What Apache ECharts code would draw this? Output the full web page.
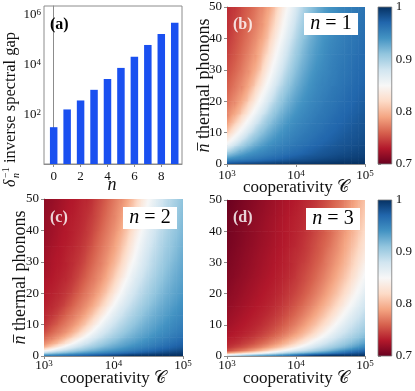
<!DOCTYPE html>
<html><head><meta charset="utf-8">
<script src="https://cdn.jsdelivr.net/npm/echarts@6/dist/echarts.min.js"></script>
<style>html,body{margin:0;padding:0;background:#fff}#c{width:415px;height:391px}</style>
</head><body><div id="c"></div>
<script>
// ---------- data ----------
const barN = [0,1,2,3,4,5,6,7,8,9];
const barGap = [30,155,355,950,2600,7200,20000,60000,165000,470000];
const barTicks = [0,2,4,6,8];
const logTickLabels = [100, 10000, 1000000];
const coopEdges = [1000,1258.9,1584.9,1995.3,2511.9,3162.3,3981.1,5011.9,6309.6,7943.3,10000,12589,15849,19953,25119,31623,39811,50119,63096,79433,100000];
const phononEdges = [0,1,2,3,4,6,8,10,13,16,20,25,30,35,40,45,50];
const panelN = ['1','2','3'];
const cbRange = [0.7, 1];
const heatB = [
[.971,.974,.977,.979,.981,.983,.985,.987,.988,.990,.991,.992,.993,.994,.995,.996,.997,.997,.998,.998],
[.946,.951,.955,.959,.962,.966,.969,.972,.975,.978,.980,.982,.984,.986,.988,.989,.991,.992,.993,.994],
[.927,.936,.943,.949,.953,.957,.961,.964,.968,.971,.974,.977,.979,.981,.983,.985,.987,.988,.990,.991],
[.910,.922,.932,.940,.946,.951,.955,.959,.962,.966,.969,.972,.975,.978,.980,.982,.984,.986,.988,.989],
[.885,.903,.916,.927,.936,.943,.949,.953,.957,.961,.964,.968,.971,.974,.977,.979,.981,.983,.985,.987],
[.855,.875,.895,.910,.922,.932,.940,.946,.951,.955,.959,.962,.966,.969,.972,.975,.978,.980,.982,.984],
[.834,.855,.875,.895,.910,.922,.932,.940,.946,.951,.955,.959,.962,.966,.969,.972,.975,.978,.980,.982],
[.810,.834,.855,.875,.895,.910,.922,.932,.940,.946,.951,.955,.959,.962,.966,.969,.972,.975,.978,.980],
[.790,.810,.834,.855,.875,.895,.910,.922,.932,.940,.946,.951,.955,.959,.962,.966,.969,.972,.975,.978],
[.778,.790,.810,.834,.855,.875,.895,.910,.922,.932,.940,.946,.951,.955,.959,.962,.966,.969,.972,.975],
[.768,.778,.790,.810,.834,.855,.875,.895,.910,.922,.932,.940,.946,.951,.955,.959,.962,.966,.969,.972],
[.760,.769,.779,.792,.812,.836,.857,.877,.896,.911,.923,.933,.941,.947,.951,.955,.959,.962,.966,.969],
[.754,.762,.772,.783,.796,.820,.843,.863,.883,.901,.915,.926,.935,.942,.948,.953,.957,.960,.964,.967],
[.749,.757,.766,.776,.788,.805,.829,.851,.871,.891,.907,.920,.930,.938,.945,.950,.954,.958,.961,.965],
[.745,.753,.761,.770,.780,.793,.815,.838,.859,.879,.898,.912,.924,.934,.941,.947,.952,.956,.960,.963],
[.742,.748,.757,.765,.775,.786,.803,.827,.849,.869,.889,.906,.918,.929,.938,.944,.950,.954,.958,.961]
];
const heatC = [
[.928,.934,.940,.946,.951,.956,.961,.966,.970,.974,.978,.982,.986,.988,.990,.992,.994,.995,.996,.997],
[.866,.880,.891,.901,.910,.918,.925,.931,.937,.943,.948,.953,.958,.963,.968,.972,.976,.980,.984,.987],
[.820,.840,.858,.873,.886,.896,.906,.914,.922,.928,.934,.940,.946,.951,.956,.961,.966,.970,.974,.978],
[.793,.810,.830,.850,.866,.880,.891,.901,.910,.918,.925,.931,.937,.943,.948,.953,.958,.963,.968,.972],
[.775,.786,.801,.820,.840,.858,.873,.886,.896,.906,.914,.922,.928,.934,.940,.946,.951,.956,.961,.966],
[.760,.770,.780,.793,.810,.830,.850,.866,.880,.891,.901,.910,.918,.925,.931,.937,.943,.948,.953,.958],
[.750,.760,.770,.780,.793,.810,.830,.850,.866,.880,.891,.901,.910,.918,.925,.931,.937,.943,.948,.953],
[.742,.750,.760,.770,.780,.793,.810,.830,.850,.866,.880,.891,.901,.910,.918,.925,.931,.937,.943,.948],
[.737,.742,.750,.760,.770,.780,.793,.810,.830,.850,.866,.880,.891,.901,.910,.918,.925,.931,.937,.943],
[.733,.737,.742,.750,.760,.770,.780,.793,.810,.830,.850,.866,.880,.891,.901,.910,.918,.925,.931,.937],
[.730,.733,.737,.742,.750,.760,.770,.780,.793,.810,.830,.850,.866,.880,.891,.901,.910,.918,.925,.931],
[.726,.730,.733,.737,.743,.751,.761,.771,.781,.795,.812,.832,.852,.867,.881,.892,.902,.911,.919,.926],
[.724,.728,.731,.735,.739,.745,.754,.764,.774,.785,.799,.818,.838,.856,.872,.885,.895,.905,.913,.921],
[.721,.725,.729,.732,.736,.741,.748,.758,.768,.778,.790,.806,.826,.846,.863,.877,.889,.899,.908,.916],
[.720,.723,.727,.731,.734,.738,.744,.752,.762,.772,.782,.796,.814,.834,.853,.869,.882,.893,.903,.912],
[.718,.721,.725,.729,.732,.736,.740,.748,.757,.767,.777,.788,.804,.824,.844,.861,.876,.888,.898,.908]
];
const heatD = [
[.846,.860,.873,.884,.894,.903,.912,.921,.930,.940,.950,.959,.967,.973,.978,.982,.985,.987,.989,.991],
[.765,.774,.784,.795,.808,.822,.838,.853,.867,.879,.889,.898,.907,.916,.925,.935,.945,.955,.963,.970],
[.747,.754,.761,.770,.779,.790,.802,.815,.830,.846,.860,.873,.884,.894,.903,.912,.921,.930,.940,.950],
[.739,.744,.750,.757,.765,.774,.784,.795,.808,.822,.838,.853,.867,.879,.889,.898,.907,.916,.925,.935],
[.734,.737,.742,.747,.754,.761,.770,.779,.790,.802,.815,.830,.846,.860,.873,.884,.894,.903,.912,.921],
[.729,.732,.735,.739,.744,.750,.757,.765,.774,.784,.795,.808,.822,.838,.853,.867,.879,.889,.898,.907],
[.726,.729,.732,.735,.739,.744,.750,.757,.765,.774,.784,.795,.808,.822,.838,.853,.867,.879,.889,.898],
[.723,.726,.729,.732,.735,.739,.744,.750,.757,.765,.774,.784,.795,.808,.822,.838,.853,.867,.879,.889],
[.720,.723,.726,.729,.732,.735,.739,.744,.750,.757,.765,.774,.784,.795,.808,.822,.838,.853,.867,.879],
[.717,.720,.723,.726,.729,.732,.735,.739,.744,.750,.757,.765,.774,.784,.795,.808,.822,.838,.853,.867],
[.714,.717,.720,.723,.726,.729,.732,.735,.739,.744,.750,.757,.765,.774,.784,.795,.808,.822,.838,.853],
[.711,.714,.717,.720,.723,.726,.729,.732,.735,.739,.745,.751,.758,.766,.775,.785,.796,.809,.824,.840],
[.709,.712,.715,.718,.721,.724,.727,.730,.733,.737,.741,.746,.753,.760,.769,.778,.788,.800,.814,.828],
[.707,.710,.713,.716,.719,.722,.725,.728,.731,.734,.738,.743,.749,.756,.763,.772,.782,.793,.805,.819],
[.706,.709,.712,.715,.718,.721,.724,.727,.730,.733,.736,.740,.745,.751,.759,.767,.776,.786,.798,.811],
[.704,.707,.710,.713,.716,.719,.722,.725,.728,.731,.734,.738,.742,.748,.755,.763,.771,.781,.792,.804]
];

// ---------- styling ----------
const SERIF = '"Liberation Serif", "DejaVu Serif", serif';
const RDBU = ['#67001f','#b2182b','#d6604d','#f4a582','#fddbc7','#f7f7f7','#d1e5f0','#92c5de','#4393c3','#2166ac','#053061'];
const RDBU_RGB = RDBU.map(h => [1,3,5].map(i => parseInt(h.substr(i,2),16)));
const AX = '#8c8c8c';
const TOP = 100;
function cmap(v){
  let t = (v - cbRange[0]) / (cbRange[1] - cbRange[0]);
  t = Math.max(0, Math.min(1, t)) * (RDBU.length - 1);
  const i = Math.min(RDBU.length - 2, Math.floor(t)), f = t - i;
  const a = RDBU_RGB[i], b = RDBU_RGB[i+1];
  return 'rgb(' + a.map((x, k) => Math.round(x + (b[k]-x)*f)).join(',') + ')';
}
const supRich = {
  b: {fontFamily: SERIF, fontSize: 13, color: '#111', verticalAlign: 'bottom', lineHeight: 13},
  s: {fontFamily: SERIF, fontSize: 9, color: '#111', verticalAlign: 'top', lineHeight: 9, padding: [0,0,6,0]}
};
const powLabel = v => '{b|10}{s|' + Math.round(Math.log10(v)) + '}';

function heatData(rows){
  const out = [];
  rows.forEach((row, r) => row.forEach((v, c) => {
    out.push([coopEdges[c], coopEdges[c+1], phononEdges[r], phononEdges[r+1], v]);
  }));
  return out;
}
// each cell is shaded (like gouraud shading) with a gradient following the local slope of the grid values
function makeCellRenderer(rows){
  const nR = rows.length, nC = rows[0].length;
  return function(params, api){
    const r = Math.floor(params.dataIndex / nC), c = params.dataIndex % nC;
    const px = i => api.coord([coopEdges[i], 0])[0];
    const py = i => api.coord([coopEdges[0], phononEdges[i]])[1];
    const cx = i => (px(i) + px(i+1)) / 2, cy = i => (py(i) + py(i+1)) / 2;
    const x0 = px(c), x1 = px(c+1), y0 = py(r+1), y1 = py(r);
    const v = rows[r][c];
    const cl = Math.max(0, c-1), cr = Math.min(nC-1, c+1);
    const rl = Math.max(0, r-1), rh = Math.min(nR-1, r+1);
    const gx = (rows[r][cr] - rows[r][cl]) / (cx(cr) - cx(cl));
    const gy = (rows[rh][c] - rows[rl][c]) / (cy(rh) - cy(rl));
    const mx = (x0 + x1) / 2, my = (y0 + y1) / 2;
    const g = Math.hypot(gx, gy);
    let fill = cmap(v);
    if (g > 1e-7){
      const ux = gx / g, uy = gy / g;
      const hw = (x1 - x0) / 2, hh = (y1 - y0) / 2;
      const ext = Math.abs(ux) * hw + Math.abs(uy) * hh + 0.5;
      const v0 = v - g * ext, v1 = v + g * ext;
      const stops = [];
      for (let k = 0; k <= 6; k++) stops.push({offset: k/6, color: cmap(v0 + (v1 - v0) * k / 6)});
      fill = {type: 'linear', global: true, x: mx - ux*ext, y: my - uy*ext, x2: mx + ux*ext, y2: my + uy*ext, colorStops: stops};
    }
    return {type: 'rect', shape: {x: x0, y: y0, width: x1 - x0 + 0.6, height: y1 - y0 + 0.6}, style: {fill: fill}};
  };
}
function renderBar(params, api){
  const p1 = api.coord([api.value(0), api.value(3)]);
  const p2 = api.coord([api.value(1), api.value(2)]);
  return {type: 'rect', shape: {x: p1[0], y: p1[1], width: p2[0]-p1[0], height: p2[1]-p1[1]},
          style: {fill: {type: 'linear', x: 0, y: 1, x2: 0, y2: 0,
                   colorStops: RDBU.map((c, i) => ({offset: i/(RDBU.length-1), color: c}))},
                  stroke: '#7a7a7a', lineWidth: 0.8}};
}

const grids = [
  {left: 44, top: 6, width: 138, height: 158, show: true, borderColor: AX, borderWidth: 1},
  {left: 227, top: 7, width: 138, height: 157},
  {left: 44, top: 199, width: 139, height: 157},
  {left: 227, top: 200, width: 138, height: 156},
  {left: 378, top: 7, width: 15, height: 157},
  {left: 378, top: 200, width: 15, height: 156}
];

function logX(gi, margin){
  return {type: 'log', logBase: 10, gridIndex: gi, min: 1000, max: 100000,
    axisLine: {lineStyle: {color: AX}}, axisTick: {length: 3, lineStyle: {color: AX}},
    splitLine: {show: false}, minorTick: {show: false},
    axisLabel: {formatter: powLabel, rich: supRich, margin: margin}};
}
function nY(gi){
  return {type: 'value', gridIndex: gi, min: 0, max: 50, interval: 10,
    axisLine: {show: true, lineStyle: {color: AX}}, axisTick: {show: true, length: 3, lineStyle: {color: AX}},
    splitLine: {show: false},
    axisLabel: {fontFamily: SERIF, fontSize: 13, color: '#111', margin: 5}};
}
function cbY(gi){
  return {type: 'value', gridIndex: gi, position: 'right', min: cbRange[0], max: cbRange[1], interval: 0.1,
    axisLine: {show: false}, axisTick: {show: true, length: 3, lineStyle: {color: AX}},
    splitLine: {show: false},
    axisLabel: {fontFamily: SERIF, fontSize: 13, color: '#111', margin: 4,
      formatter: v => String(+v.toFixed(2))}};
}
function hiddenX(gi){
  return {type: 'value', gridIndex: gi, min: 0, max: 1, show: false};
}

function nBox(x, y, k){
  return {type: 'group', x: x, y: y, z: TOP, children: [
    {type: 'rect', z: TOP, shape: {x: 0, y: 0, width: 54, height: 22}, style: {fill: '#fff'}},
    {type: 'text', z: TOP + 1, x: 27, y: 11, style: {text: '{i|n} = ' + k, align: 'center', verticalAlign: 'middle',
      fontFamily: SERIF, fontSize: 20, fill: '#000',
      rich: {i: {fontFamily: SERIF, fontStyle: 'italic', fontSize: 20}}}}
  ]};
}
function panelTag(x, y, t, col){
  return {type: 'text', z: TOP, x: x, y: y, style: {text: t, fontFamily: SERIF, fontWeight: 'bold', fontSize: 16, fill: col}};
}
function yTitle(cx, cy){
  const W = 129;
  return {type: 'group', x: cx, y: cy, rotation: Math.PI/2, z: TOP, children: [
    {type: 'text', z: TOP, x: -W/2, y: 0, style: {text: '{i|n} thermal phonons', verticalAlign: 'middle',
      fontFamily: SERIF, fontSize: 18, fill: '#111',
      rich: {i: {fontFamily: SERIF, fontStyle: 'italic', fontSize: 18}}}},
    {type: 'line', z: TOP, shape: {x1: -W/2 + 2, y1: -6.5, x2: -W/2 + 10, y2: -6.5}, style: {stroke: '#111', lineWidth: 0.9}}
  ]};
}
function xTitle(x, y){
  return {type: 'text', z: TOP, x: x, y: y, style: {text: 'cooperativity {c|\uD835\uDC9E}',
    align: 'center', verticalAlign: 'middle', fontFamily: SERIF, fontSize: 17, fill: '#111',
    rich: {c: {fontFamily: SERIF, fontSize: 17}}}};
}

const option = {
  animation: false,
  backgroundColor: '#fff',
  grid: grids,
  xAxis: [
    {type: 'value', gridIndex: 0, min: -0.72, max: 9.54,
      axisLine: {lineStyle: {color: AX}}, splitLine: {show: false},
      axisTick: {customValues: barTicks, length: 3, lineStyle: {color: AX}},
      axisLabel: {customValues: barTicks, fontFamily: SERIF, fontSize: 13, color: '#111', margin: 6}},
    logX(1, 5), logX(2, 3), logX(3, 3), hiddenX(4), hiddenX(5)
  ],
  yAxis: [
    {type: 'log', logBase: 10, gridIndex: 0, min: 1, max: 2.2e6,
      axisLine: {lineStyle: {color: AX}}, axisTick: {show: false}, splitLine: {show: false},
      axisLabel: {customValues: logTickLabels, formatter: powLabel, rich: supRich, margin: 3}},
    nY(1), nY(2), nY(3), cbY(4), cbY(5)
  ],
  series: [
    {type: 'bar', xAxisIndex: 0, yAxisIndex: 0, barWidth: 7.5,
      itemStyle: {color: '#1a50f0'}, data: barN.map((n, i) => [n, barGap[i]])},
    {type: 'custom', xAxisIndex: 1, yAxisIndex: 1, renderItem: makeCellRenderer(heatB), clip: true,
      encode: {x: [0,1], y: [2,3]}, data: heatData(heatB)},
    {type: 'custom', xAxisIndex: 2, yAxisIndex: 2, renderItem: makeCellRenderer(heatC), clip: true,
      encode: {x: [0,1], y: [2,3]}, data: heatData(heatC)},
    {type: 'custom', xAxisIndex: 3, yAxisIndex: 3, renderItem: makeCellRenderer(heatD), clip: true,
      encode: {x: [0,1], y: [2,3]}, data: heatData(heatD)},
    {type: 'custom', xAxisIndex: 4, yAxisIndex: 4, renderItem: renderBar,
      encode: {x: [0,1], y: [2,3]}, data: [[0, 1, cbRange[0], cbRange[1]]]},
    {type: 'custom', xAxisIndex: 5, yAxisIndex: 5, renderItem: renderBar,
      encode: {x: [0,1], y: [2,3]}, data: [[0, 1, cbRange[0], cbRange[1]]]}
  ],
  graphic: [
    panelTag(50, 17, '(a)', '#000'),
    panelTag(233, 17, '(b)', 'rgba(255,255,255,0.82)'),
    panelTag(50, 210, '(c)', 'rgba(255,255,255,0.82)'),
    panelTag(233, 210, '(d)', 'rgba(255,255,255,0.82)'),
    nBox(304, 13, panelN[0]), nBox(123, 207, panelN[1]), nBox(306, 208, panelN[2]),
    yTitle(204, 88), yTitle(20, 280),
    xTitle(296, 188), xTitle(113, 379), xTitle(296, 379),
    {type: 'text', z: TOP, x: 112, y: 185, style: {text: 'n', align: 'center', verticalAlign: 'middle',
      fontFamily: SERIF, fontStyle: 'italic', fontSize: 18, fill: '#111'}},
    {type: 'group', z: TOP, x: 11, y: 187, rotation: Math.PI/2, children: [
      {type: 'text', z: TOP, x: 0, y: 0, style: {text: '\u03B4', verticalAlign: 'middle', fontFamily: SERIF, fontStyle: 'italic', fontSize: 16, fill: '#111'}},
      {type: 'text', z: TOP, x: 9, y: -5, style: {text: '\u22121', verticalAlign: 'middle', fontFamily: SERIF, fontSize: 10, fill: '#111'}},
      {type: 'text', z: TOP, x: 9, y: 5, style: {text: 'n', verticalAlign: 'middle', fontFamily: SERIF, fontStyle: 'italic', fontSize: 10, fill: '#111'}},
      {type: 'text', z: TOP, x: 24, y: 0, style: {text: 'inverse spectral gap', verticalAlign: 'middle', fontFamily: SERIF, fontSize: 16.5, fill: '#111'}}
    ]}
  ]
};
const chart = echarts.init(document.getElementById('c'), null, {renderer: 'canvas'});
chart.setOption(option);
</script></body></html>
